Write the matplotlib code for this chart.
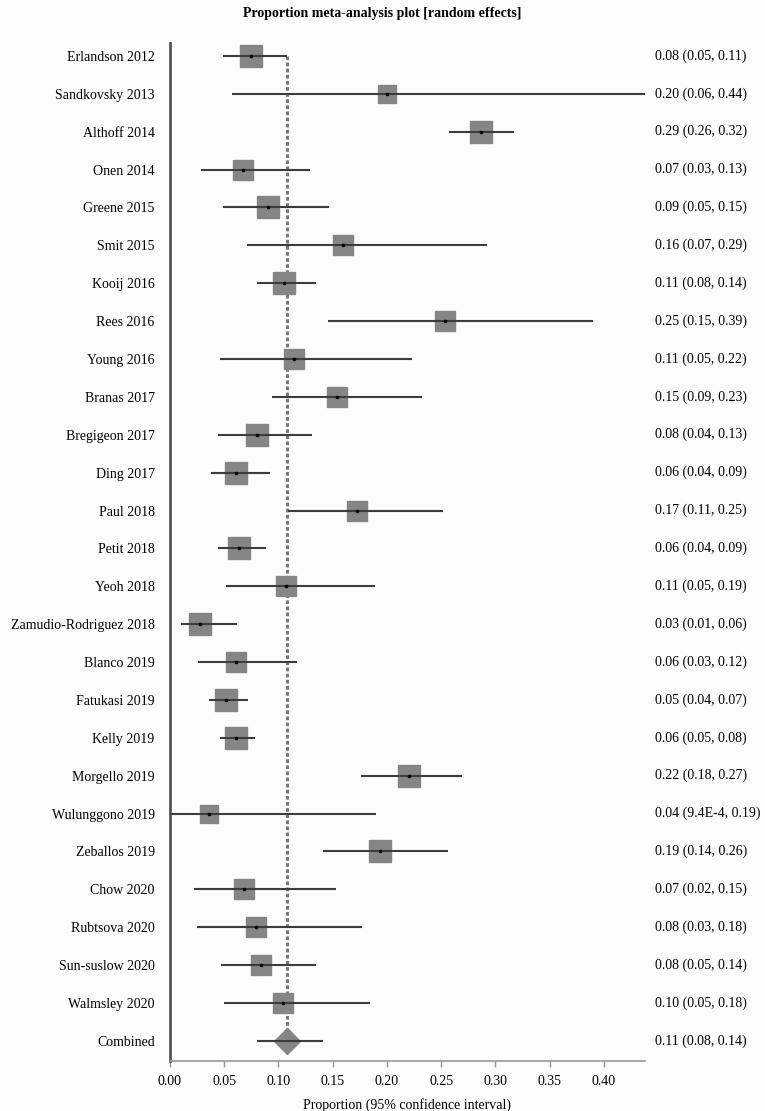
import numpy as np
import matplotlib
matplotlib.use("Agg")
import matplotlib.pyplot as plt
from matplotlib.transforms import blended_transform_factory

studies = ["Erlandson 2012", "Sandkovsky 2013", "Althoff 2014", "Onen 2014",
           "Greene 2015", "Smit 2015", "Kooij 2016", "Rees 2016", "Young 2016",
           "Branas 2017", "Bregigeon 2017", "Ding 2017", "Paul 2018", "Petit 2018",
           "Yeoh 2018", "Zamudio-Rodriguez 2018", "Blanco 2019", "Fatukasi 2019",
           "Kelly 2019", "Morgello 2019", "Wulunggono 2019", "Zeballos 2019",
           "Chow 2020", "Rubtsova 2020", "Sun-suslow 2020", "Walmsley 2020"]
est = [0.075, 0.200, 0.287, 0.067, 0.090, 0.160, 0.105, 0.254, 0.114, 0.154,
       0.080, 0.061, 0.172, 0.064, 0.107, 0.028, 0.061, 0.052, 0.061, 0.220,
       0.036, 0.194, 0.068, 0.079, 0.084, 0.104]
lo = [0.049, 0.057, 0.257, 0.029, 0.049, 0.071, 0.080, 0.146, 0.046, 0.094,
      0.044, 0.038, 0.109, 0.044, 0.052, 0.010, 0.026, 0.036, 0.046, 0.176,
      0.0009, 0.141, 0.022, 0.025, 0.047, 0.050]
hi = [0.108, 0.44, 0.317, 0.129, 0.147, 0.292, 0.135, 0.390, 0.223, 0.232,
      0.131, 0.092, 0.252, 0.089, 0.189, 0.062, 0.117, 0.072, 0.078, 0.269,
      0.190, 0.256, 0.153, 0.177, 0.135, 0.184]
weights = [4.18, 2.66, 4.18, 3.81, 4.03, 3.45, 4.03, 3.31, 3.66, 3.81,
           4.18, 4.18, 3.81, 4.18, 3.81, 4.18, 3.92, 4.30, 4.30, 4.03,
           2.88, 4.03, 3.55, 3.66, 3.92, 3.66]
ci_text = ["0.08 (0.05, 0.11)", "0.20 (0.06, 0.44)", "0.29 (0.26, 0.32)",
           "0.07 (0.03, 0.13)", "0.09 (0.05, 0.15)", "0.16 (0.07, 0.29)",
           "0.11 (0.08, 0.14)", "0.25 (0.15, 0.39)", "0.11 (0.05, 0.22)",
           "0.15 (0.09, 0.23)", "0.08 (0.04, 0.13)", "0.06 (0.04, 0.09)",
           "0.17 (0.11, 0.25)", "0.06 (0.04, 0.09)", "0.11 (0.05, 0.19)",
           "0.03 (0.01, 0.06)", "0.06 (0.03, 0.12)", "0.05 (0.04, 0.07)",
           "0.06 (0.05, 0.08)", "0.22 (0.18, 0.27)", "0.04 (9.4E-4, 0.19)",
           "0.19 (0.14, 0.26)", "0.07 (0.02, 0.15)", "0.08 (0.03, 0.18)",
           "0.08 (0.05, 0.14)", "0.10 (0.05, 0.18)"]

pooled_label = "Combined"
pooled_est = 0.108
pooled_lo = 0.080
pooled_hi = 0.141
pooled_text = "0.11 (0.08, 0.14)"

xticks = [0.00, 0.05, 0.10, 0.15, 0.20, 0.25, 0.30, 0.35, 0.40]

plt.rcParams['font.family'] = ['Liberation Serif', 'DejaVu Serif']
plt.rcParams['font.size'] = 10

fig = plt.figure(figsize=(7.65, 11.11), dpi=100, facecolor='#fcfcfc')
ax = fig.add_axes([0.2222, 0.045, 0.6209, 0.9163])
ax.set_facecolor('#fcfcfc')

n = len(studies)
ys = np.arange(n)
w = np.array(weights)
sides = 15.8 * np.sqrt(w / w.max())

# dashed line at pooled estimate
ax.plot([pooled_est, pooled_est], [0, n], color='#777777', lw=2.2,
        ls=(0, (1.2, 0.8)), zorder=1)

for i in range(n):
    ax.plot(est[i], ys[i], marker='s', ms=sides[i], color='#858585',
            mec='#858585', ls='none', zorder=2)
    ax.plot([lo[i], hi[i]], [ys[i], ys[i]], color='#3c3c3c', lw=1.5,
            solid_capstyle='butt', zorder=3)
    ax.plot(est[i], ys[i], marker='o', ms=1.6, color='black', ls='none', zorder=4)

# combined estimate
ax.plot(pooled_est, n, marker='D', ms=12.8, color='#858585', mec='#858585',
        ls='none', zorder=2)
ax.plot([pooled_lo, pooled_hi], [n, n], color='#3c3c3c', lw=1.5,
        solid_capstyle='butt', zorder=3)

ax.set_xlim(0, 0.438)
ax.set_ylim(n + 0.53, -0.34)

ax.set_yticks(list(ys) + [n])
ax.set_yticklabels(studies + [pooled_label], fontsize=10)
ax.tick_params(axis='y', length=0, pad=11)

ax.set_xticks(xticks)
ax.set_xticklabels([f"{t:.2f}" for t in xticks], fontsize=10)
ax.tick_params(axis='x', length=4, width=1, color='#999999', pad=6)
ax.set_xlabel("Proportion (95% confidence interval)", fontsize=10, labelpad=7)

for s in ['top', 'right']:
    ax.spines[s].set_visible(False)
ax.spines['left'].set_color('#555555')
ax.spines['left'].set_linewidth(2)
ax.spines['bottom'].set_color('#999999')
ax.spines['bottom'].set_linewidth(1.2)

trans = blended_transform_factory(ax.transAxes, ax.transData)
for i in range(n):
    ax.text(1.021, ys[i], ci_text[i], transform=trans, ha='left', va='center',
            fontsize=10, clip_on=False)
ax.text(1.021, n, pooled_text, transform=trans, ha='left', va='center',
        fontsize=10, clip_on=False)

fig.text(0.5, 0.988, "Proportion meta-analysis plot [random effects]",
         ha='center', va='center', fontsize=10, fontweight='bold')

fig.savefig("out.png", dpi=100, facecolor=fig.get_facecolor())
